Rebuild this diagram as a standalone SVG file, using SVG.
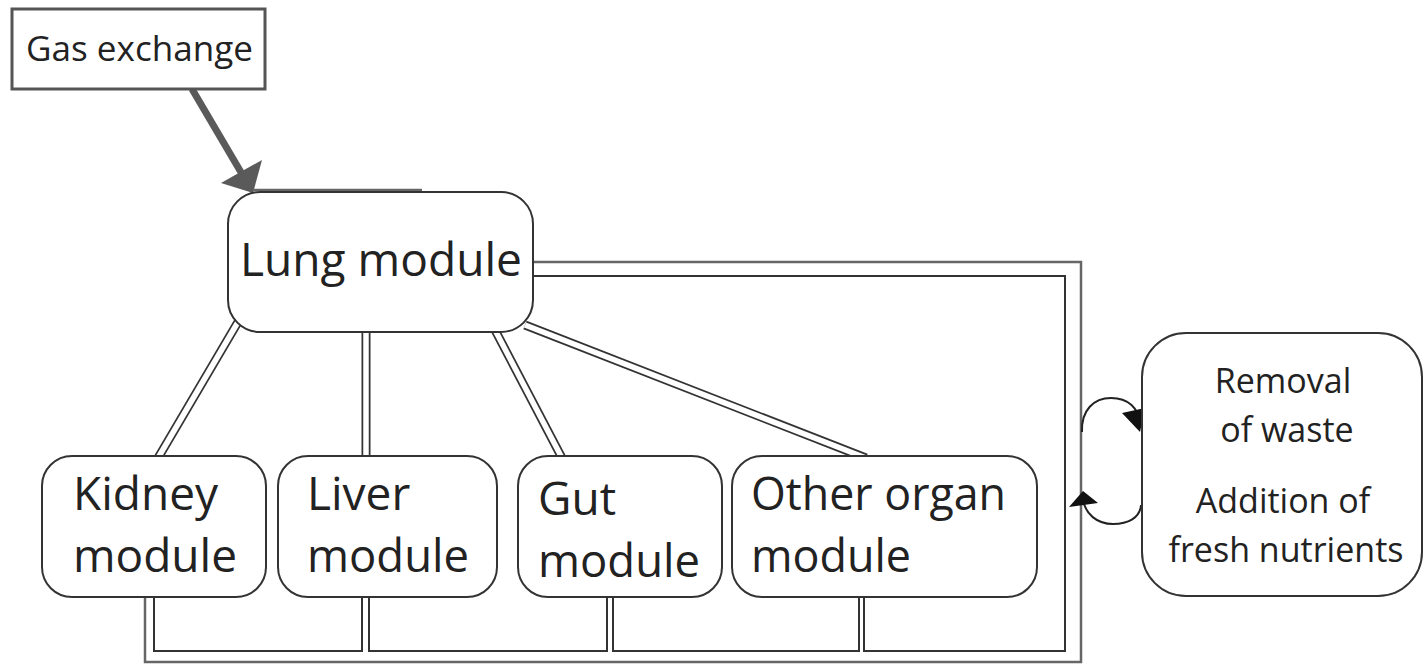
<svg xmlns="http://www.w3.org/2000/svg" width="1424" height="664" viewBox="0 0 1424 664">
<style>
  .box{fill:#fff;stroke:#333;stroke-width:2}
  .gbox{fill:#fff;stroke:#555;stroke-width:3}
  .t{font-family:"Open Sans","Noto Sans","Liberation Sans",sans-serif;fill:#222}
  .tm{font-size:46px}
  .ts{font-size:35px}
  .tr{font-size:34px;text-anchor:middle}
  .dk{fill:none;stroke:#333;stroke-width:9}
  .wh{fill:none;stroke:#fff;stroke-width:5.5}
  .outer{fill:none;stroke:#666;stroke-width:2.5}
  .inner{fill:none;stroke:#333;stroke-width:2}
  .loop{fill:none;stroke:#222;stroke-width:2}
  .head{fill:#111}
</style>
<rect width="1424" height="664" fill="#fff"/>
<g id="connectors">
  <!-- gas exchange arrow -->
  <line x1="192" y1="89" x2="242" y2="174" stroke="#5a5a5a" stroke-width="7"/>
  <polygon points="221,183 262,160 253,193" fill="#5a5a5a"/>
  <!-- double lines from lung -->
  <g>
    <line class="dk" x1="238" y1="322" x2="158" y2="458"/>
    <line class="dk" x1="366" y1="330" x2="366" y2="458"/>
    <line class="dk" x1="495" y1="330" x2="562" y2="458"/>
    <line class="dk" x1="525" y1="325" x2="866" y2="458"/>
    <line class="wh" x1="238" y1="322" x2="158" y2="458"/>
    <line class="wh" x1="366" y1="330" x2="366" y2="458"/>
    <line class="wh" x1="495" y1="330" x2="562" y2="458"/>
    <line class="wh" x1="525" y1="325" x2="866" y2="458"/>
  </g>
  <!-- circulation loop -->
  <path class="outer" d="M530,262 H1081 V662 H145 V595"/>
  <path class="inner" d="M530,276 H1065 V651 H864 V595"/>
  <path class="inner" d="M859,595 V651 H613 V595"/>
  <path class="inner" d="M607,595 V651 H369 V595"/>
  <path class="inner" d="M362,595 V651 H154 V595"/>
  <!-- exchange loop arrows -->
  <path class="loop" d="M1082,432 C1081,410 1094,398 1111,398 C1128,398 1139,408 1140,424"/>
  <polygon class="head" points="1122,413 1145,408 1140,432"/>
  <path class="loop" d="M1141,505 C1140,518 1128,524 1113,524 C1097,524 1085,514 1083,499"/>
  <polygon class="head" points="1069,507 1083,491 1098,503"/>
</g>
<g id="gas-exchange">
  <rect class="gbox" x="12" y="9" width="253" height="80"/>
  <text class="t ts" x="26" y="61" textLength="227" lengthAdjust="spacingAndGlyphs">Gas exchange</text>
</g>
<g id="lung">
  <line x1="253" y1="190" x2="422" y2="190" stroke="#666" stroke-width="2.5"/>
  <rect class="box" x="228" y="192" width="305" height="140" rx="32"/>
  <text class="t tm" x="240" y="276" textLength="282" lengthAdjust="spacingAndGlyphs">Lung module</text>
</g>
<g id="kidney">
  <rect class="box" x="42" y="456" width="224" height="141" rx="30"/>
  <text class="t tm" x="73" y="510">Kidney</text>
  <text class="t tm" x="73" y="572" textLength="164" lengthAdjust="spacingAndGlyphs">module</text>
</g>
<g id="liver">
  <rect class="box" x="278" y="456" width="219" height="141" rx="30"/>
  <text class="t tm" x="307" y="510">Liver</text>
  <text class="t tm" x="307" y="572" textLength="162" lengthAdjust="spacingAndGlyphs">module</text>
</g>
<g id="gut">
  <rect class="box" x="518" y="456" width="204" height="141" rx="30"/>
  <text class="t tm" x="538" y="515">Gut</text>
  <text class="t tm" x="538" y="577" textLength="162" lengthAdjust="spacingAndGlyphs">module</text>
</g>
<g id="other">
  <rect class="box" x="732" y="456" width="305" height="141" rx="30"/>
  <text class="t tm" x="751" y="510" textLength="255" lengthAdjust="spacingAndGlyphs">Other organ</text>
  <text class="t tm" x="751" y="572" textLength="160" lengthAdjust="spacingAndGlyphs">module</text>
</g>
<g id="exchange">
  <rect class="box" x="1142" y="333" width="280" height="263" rx="44"/>
  <text class="t tr" x="1283" y="393">Removal</text>
  <text class="t tr" x="1287" y="442">of waste</text>
  <text class="t tr" x="1283" y="513">Addition of</text>
  <text class="t tr" x="1286" y="562" textLength="235" lengthAdjust="spacingAndGlyphs">fresh nutrients</text>
</g>
</svg>
